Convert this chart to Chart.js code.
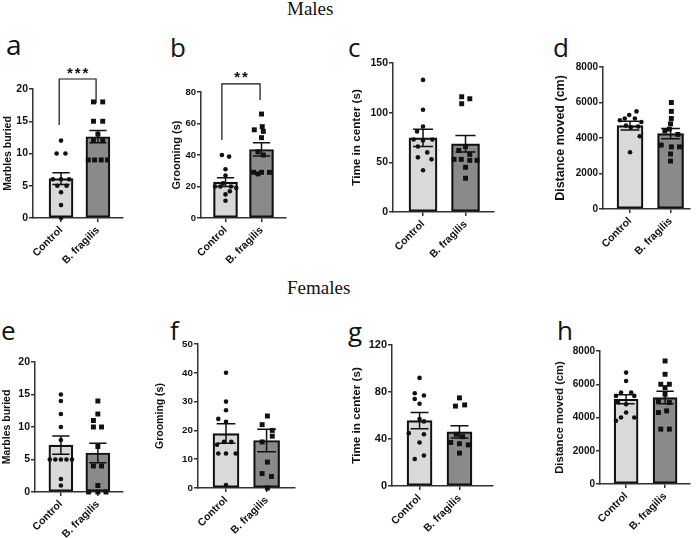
<!DOCTYPE html>
<html>
<head>
<meta charset="utf-8">
<script src="https://cdn.jsdelivr.net/npm/chart.js@4.4.1/dist/chart.umd.min.js"></script>
<style>
  body { margin: 0; background: #fff; width: 700px; height: 539px; position: relative; overflow: hidden; }
  canvas { position: absolute; }
  .ttl { position: absolute; font-family: "Liberation Serif", "Times New Roman", serif; font-size: 19px; line-height: 19px; color: #111; white-space: nowrap; }
  .lt { position: absolute; font-family: "Open Sans", sans-serif; font-size: 26px; line-height: 26px; color: #111; }
</style>
</head>
<body>
<div class="ttl" style="left:287px;top:-1px">Males</div>
<div class="ttl" style="left:287px;top:278px">Females</div>
<div class="lt" style="left:6px;top:30px;font-size:28px;line-height:28px">a</div>
<div class="lt" style="left:170px;top:34px">b</div>
<div class="lt" style="left:348px;top:34px">c</div>
<div class="lt" style="left:553px;top:34px">d</div>
<div class="lt" style="left:1px;top:317px">e</div>
<div class="lt" style="left:170px;top:317px">f</div>
<div class="lt" style="left:348px;top:318px">g</div>
<div class="lt" style="left:557px;top:317px">h</div>

<script>
const groups = ['Control', 'B. fragilis'];

// a - marbles buried, males
const aCtrl  = [12, 10, 10, 6, 6, 6, 5, 5, 4, 2, 0];
const aCtrlX = [0, -0.12, 0.12, -0.22, 0, 0.22, -0.1, 0.15, 0, 0, 0];
const aFrag  = [18, 18, 15, 15, 13, 12, 12, 9, 9, 9, 9];
const aFragX = [-0.12, 0.13, -0.12, 0.13, 0, -0.12, 0.13, -0.26, -0.09, 0.09, 0.26];
const aMean  = [6.1, 12.6];
const aSem   = [0.9, 0.95];

// b - grooming, males
const bCtrl  = [40, 39, 31, 27, 22, 20, 20, 20, 19, 17, 15, 11];
const bCtrlX = [-0.1, 0.1, 0, 0, -0.07, -0.29, -0.14, 0.15, 0.3, 0.12, 0, 0];
const bFrag  = [66, 58, 56, 55, 51, 42, 40, 29, 29, 29, 28];
const bFragX = [0, 0.02, -0.2, 0.05, 0, -0.1, 0.05, -0.22, 0, 0.22, -0.1];
const bMean  = [22.8, 43.5];
const bSem   = [2.8, 4.2];

// c - time in center, males
const cCtrl  = [133, 103, 86, 81, 73, 73, 72, 66, 60, 55, 53, 42];
const cCtrlX = [0, 0, 0, -0.14, -0.22, 0.22, 0, -0.12, 0.1, -0.12, 0.2, 0];
const cFrag  = [116, 114, 109, 66, 62, 58, 53, 53, 52, 52, 45, 34];
const cFragX = [-0.09, 0.1, -0.09, 0, -0.16, 0.1, -0.27, -0.1, 0.1, 0.27, 0, 0];
const cMean  = [74.7, 68.7];
const cSem   = [8.7, 8.4];

// d - distance moved, males
const dCtrl  = [5500, 5300, 5100, 5100, 5000, 4900, 4700, 4650, 4600, 4100, 3200];
const dCtrlX = [0.16, -0.02, -0.13, 0.12, -0.25, 0.28, -0.1, 0.2, 0.02, 0.24, 0];
const dFrag  = [6000, 5500, 5100, 4800, 4500, 4400, 4200, 3600, 3500, 3500, 3100, 2700];
const dFragX = [0.02, 0.02, 0.02, 0, -0.03, -0.14, 0.18, -0.23, 0.22, 0.02, 0, 0];
const dMean  = [4700, 4250];
const dSem   = [250, 290];

// e - marbles buried, females
const eCtrl  = [15, 14, 12, 10, 8, 5, 5, 5, 5, 5, 2, 1];
const eCtrlX = [0, 0, 0, 0, 0, -0.3, -0.15, 0, 0.15, 0.3, 0, 0];
const eFrag  = [14, 12, 11, 10, 10, 7, 4, 4, 1, 0, 0, 0];
const eFragX = [0, 0, -0.12, -0.12, 0.1, 0, -0.12, 0.1, 0, -0.25, 0, 0.22];
const eMean  = [7.2, 6.0];
const eSem   = [1.4, 1.5];

// f - grooming, females
const fCtrl  = [40, 30, 27, 24, 23, 16, 16, 15, 12, 12, 12, 1];
const fCtrlX = [0, 0, 0, -0.19, 0, -0.05, 0.13, -0.22, -0.19, 0, 0.24, 0];
const fFrag  = [25, 22, 20, 18, 16, 9, 5, 4, 0];
const fFragX = [0.02, -0.11, 0.14, 0.14, -0.11, 0.02, -0.11, 0.12, 0.02];
const fMean  = [18.9, 16.5];
const fSem   = [3.4, 3.9];

// g - time in center, females
const gCtrl  = [92, 79, 77, 74, 70, 57, 55, 45, 44, 37, 26, 23];
const gCtrlX = [0, -0.12, 0.11, -0.12, 0, 0, 0.11, -0.27, 0.11, 0, 0.11, -0.12];
const gFrag  = [75, 69, 68, 44, 42, 37, 36, 35, 28];
const gFragX = [0, 0.13, -0.1, -0.08, 0.08, -0.22, 0, 0.22, 0];
const gMean  = [55.7, 46];
const gSem   = [6.9, 5.2];

// h - distance moved, females
const hCtrl  = [6700, 6200, 5500, 5500, 5300, 5300, 4900, 4800, 4300, 4000, 4000, 3800];
const hCtrlX = [0, 0, -0.13, 0.13, -0.26, 0.21, -0.21, 0, 0, -0.13, 0.21, -0.26];
const hFrag  = [7400, 6600, 6000, 6000, 5800, 5400, 5000, 4900, 4400, 4300, 3300, 3300];
const hFragX = [0, 0, -0.11, 0.11, 0, 0, -0.17, 0.11, 0.04, -0.17, -0.11, 0.11];
const hMean  = [5100, 5200];
const hSem   = [270, 380];

const FONT = '"Liberation Sans", Arial, sans-serif';
const INK = '#111';
const AXIS = '#333';

const panels = [
  { ctrl: aCtrl, ctrlX: aCtrlX, frag: aFrag, fragX: aFragX, mean: aMean, sem: aSem,
    ylabel: 'Marbles buried', ymax: 20, step: 5,
    area: { l: 33, t: 89, r: 123, b: 218 }, titleX: 8, titleSize: 10.5, tickSize: 10.5,
    barW: 24, xmin: -0.76, xmax: 1.68,
    sig: { top: 21.55, yl: 14.4, yr: 17.8, xl: -0.05, xr: 0.95, text: '***', yText: 22.3 } },
  { ctrl: bCtrl, ctrlX: bCtrlX, frag: bFrag, fragX: bFragX, mean: bMean, sem: bSem,
    ylabel: 'Grooming (s)', ymax: 80, step: 20,
    area: { l: 201, t: 92, r: 286, b: 218 }, titleX: 177, titleSize: 11, tickSize: 9.5,
    barW: 24, xmin: -0.68, xmax: 1.68,
    sig: { top: 85.1, yl: 49.5, yr: 74.9, xl: -0.1, xr: 0.96, text: '**', yText: 88.9 } },
  { ctrl: cCtrl, ctrlX: cCtrlX, frag: cFrag, fragX: cFragX, mean: cMean, sem: cSem,
    ylabel: 'Time in center (s)', ymax: 150, step: 50,
    area: { l: 393, t: 63, r: 494, b: 212 }, titleX: 357, titleSize: 11.7, tickSize: 10.5,
    barW: 28, xmin: -0.706, xmax: 1.67 },
  { ctrl: dCtrl, ctrlX: dCtrlX, frag: dFrag, fragX: dFragX, mean: dMean, sem: dSem,
    ylabel: 'Distance moved (cm)', ymax: 8000, step: 2000,
    area: { l: 603, t: 67, r: 690, b: 209 }, titleX: 560, titleSize: 12.5, tickSize: 10,
    barW: 26, xmin: -0.667, xmax: 1.48 },
  { ctrl: eCtrl, ctrlX: eCtrlX, frag: eFrag, fragX: eFragX, mean: eMean, sem: eSem,
    ylabel: 'Marbles buried', ymax: 20, step: 5,
    area: { l: 35, t: 362, r: 123, b: 492 }, titleX: 7, titleSize: 10.5, tickSize: 10.5,
    barW: 24, xmin: -0.7, xmax: 1.68 },
  { ctrl: fCtrl, ctrlX: fCtrlX, frag: fFrag, fragX: fFragX, mean: fMean, sem: fSem,
    ylabel: 'Grooming (s)', ymax: 50, step: 10,
    area: { l: 198, t: 344, r: 295, b: 488 }, titleX: 160, titleSize: 10.5, tickSize: 9.8,
    barW: 26, xmin: -0.69, xmax: 1.7 },
  { ctrl: gCtrl, ctrlX: gCtrlX, frag: gFrag, fragX: gFragX, mean: gMean, sem: gSem,
    ylabel: 'Time in center (s)', ymax: 120, step: 40,
    area: { l: 392, t: 345, r: 493, b: 486 }, titleX: 357, titleSize: 11.7, tickSize: 11,
    barW: 25, xmin: -0.69, xmax: 1.84 },
  { ctrl: hCtrl, ctrlX: hCtrlX, frag: hFrag, fragX: hFragX, mean: hMean, sem: hSem,
    ylabel: 'Distance moved (cm)', ymax: 8000, step: 2000,
    area: { l: 600, t: 351, r: 690, b: 484 }, titleX: 560, titleSize: 11.2, tickSize: 10,
    barW: 24, xmin: -0.67, xmax: 1.64 }
];

// error bars right after the bars, brackets + stars on top of everything
const barExtras = {
  id: 'barExtras',
  afterDatasetDraw(chart, args, o) {
    if (args.meta.type !== 'bar') return;
    const ctx = chart.ctx, xs = chart.scales.x, ys = chart.scales.y;
    ctx.save();
    ctx.strokeStyle = INK;
    ctx.lineWidth = 1.5;
    o.mean.forEach((m, i) => {
      const x = xs.getPixelForValue(i);
      const y1 = ys.getPixelForValue(m + o.sem[i]);
      const y2 = ys.getPixelForValue(m - o.sem[i]);
      ctx.beginPath();
      ctx.moveTo(x, y1); ctx.lineTo(x, y2);
      ctx.moveTo(x - o.cap, y1); ctx.lineTo(x + o.cap, y1);
      ctx.moveTo(x - o.cap, y2); ctx.lineTo(x + o.cap, y2);
      ctx.stroke();
    });
    ctx.restore();
  },
  afterDraw(chart, args, o) {
    const s = o.sig;
    if (!s) return;
    const ctx = chart.ctx, xs = chart.scales.x, ys = chart.scales.y;
    const xl = xs.getPixelForValue(s.xl), xr = xs.getPixelForValue(s.xr);
    const yt = ys.getPixelForValue(s.top);
    ctx.save();
    ctx.strokeStyle = INK;
    ctx.lineWidth = 1.2;
    ctx.beginPath();
    ctx.moveTo(xl, ys.getPixelForValue(s.yl));
    ctx.lineTo(xl, yt);
    ctx.lineTo(xr, yt);
    ctx.lineTo(xr, ys.getPixelForValue(s.yr));
    ctx.stroke();
    ctx.fillStyle = INK;
    ctx.font = 'bold 15px ' + FONT;
    ctx.letterSpacing = '2px';
    ctx.textAlign = 'center';
    ctx.textBaseline = 'middle';
    ctx.fillText(s.text, (xl + xr) / 2 + 1, ys.getPixelForValue(s.yText));
    ctx.restore();
  }
};

function makePanel(p) {
  const lh = p.titleSize * 1.2;
  const L = Math.round(p.titleX - lh / 2);
  const yW = p.area.l - L;
  const padTop = 40, xH = 60, padRight = 8;
  const T = p.area.t - padTop;
  const W = p.area.r - L + padRight;
  const H = p.area.b - T + xH;

  const cv = document.createElement('canvas');
  cv.width = W;
  cv.height = H;
  cv.style.left = L + 'px';
  cv.style.top = T + 'px';
  document.body.appendChild(cv);

  const ctrlPts = p.ctrl.map((v, i) => ({ x: p.ctrlX[i], y: v }));
  const fragPts = p.frag.map((v, i) => ({ x: 1 + p.fragX[i], y: v }));

  new Chart(cv, {
    type: 'bar',
    data: {
      datasets: [
        { type: 'scatter', data: ctrlPts, pointStyle: 'circle', radius: 2.3,
          backgroundColor: INK, borderColor: INK, borderWidth: 0, order: 1, clip: false },
        { type: 'scatter', data: fragPts, pointStyle: 'rect', radius: 3.5,
          backgroundColor: INK, borderColor: INK, borderWidth: 0, order: 1, clip: false },
        { type: 'bar', data: [{ x: 0, y: p.mean[0] }, { x: 1, y: p.mean[1] }],
          backgroundColor: ['#d9d9d9', '#8a8a8a'], borderColor: INK, borderWidth: 2.2,
          borderSkipped: false, barThickness: p.barW, order: 2 }
      ]
    },
    options: {
      responsive: false,
      animation: false,
      events: [],
      layout: { padding: { top: padTop, right: padRight, left: 0, bottom: 0 } },
      plugins: {
        legend: { display: false },
        tooltip: { enabled: false },
        barExtras: { mean: p.mean, sem: p.sem, cap: p.barW * 0.36, sig: p.sig }
      },
      scales: {
        x: {
          type: 'linear', min: p.xmin, max: p.xmax, offset: false,
          grid: { drawOnChartArea: false, drawTicks: true, tickLength: 4, color: AXIS, lineWidth: 1.5, offset: false },
          border: { display: true, color: AXIS, width: 1.5 },
          afterBuildTicks: s => { s.ticks = [{ value: 0 }, { value: 1 }]; },
          afterFit: s => { s.height = xH; },
          ticks: {
            autoSkip: false, minRotation: 45, maxRotation: 45, padding: 2, color: INK,
            font: { family: FONT, size: 10.5, weight: 'bold' },
            callback: v => groups[v]
          }
        },
        y: {
          min: 0, max: p.ymax,
          grid: { drawOnChartArea: false, drawTicks: true, tickLength: 4, color: AXIS, lineWidth: 1.5 },
          border: { display: true, color: AXIS, width: 1.5 },
          ticks: { stepSize: p.step, padding: 1, color: INK, font: { family: FONT, size: p.tickSize, weight: 'bold' },
                   callback: v => String(v) },
          title: { display: true, text: p.ylabel, padding: 0, color: INK,
                   font: { family: FONT, size: p.titleSize, weight: 'bold' } },
          afterFit: s => { s.width = yW; }
        }
      }
    },
    plugins: [barExtras]
  });
}

panels.forEach(makePanel);
</script>
</body>
</html>
